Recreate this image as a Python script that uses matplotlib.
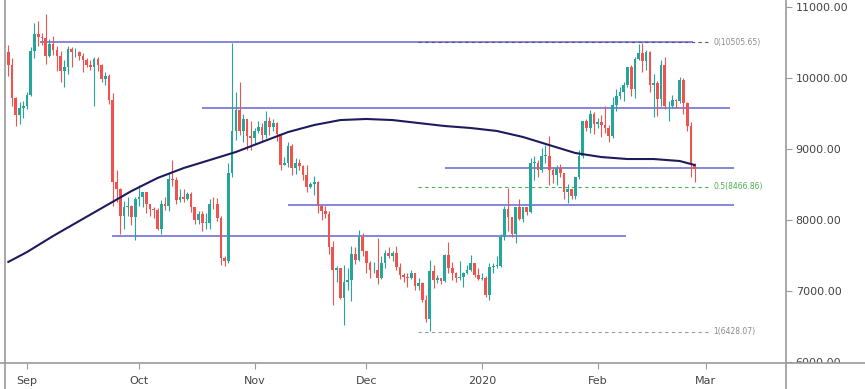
import numpy as np
import pandas as pd
import matplotlib
matplotlib.use('Agg')
import matplotlib.pyplot as plt
import matplotlib.dates as mdates
from matplotlib.lines import Line2D
from matplotlib.patches import Rectangle

# datos diarios (27 ago 2019 - 27 feb 2020)
dates = pd.date_range('2019-08-27', '2020-02-27', freq='D')
first_open = 10360

close = [
  10180, 9720, 9480, 9580, 9600,
  9760, 10380, 10620, 10580, 10570, 10310, 10480, 10390, 10310, 10100, 10160, 10410, 10360, 10360, 10310,
  10260, 10190, 10160, 10270, 10180, 9990, 10030, 9690, 8530, 8430, 8060, 8180, 8200, 8040, 8300,
  8330, 8390, 8230, 8150, 8140, 7880, 8220, 8200, 8580, 8570, 8280, 8330, 8300, 8360, 8180, 8000,
  8080, 7960, 7960, 8230, 8220, 8030, 7470, 7420, 8660, 9250, 9550, 9250, 9420, 9190, 9150,
  9250, 9310, 9200, 9400, 9310, 9360, 9210, 8780, 8810, 9040, 8730, 8810, 8760, 8630, 8470,
  8510, 8540, 8200, 8130, 8090, 7620, 7290, 7320, 6900, 7130, 7160, 7520, 7430, 7760, 7560,
  7400, 7290, 7290, 7190, 7390, 7530, 7500, 7540, 7340, 7220, 7200, 7190, 7250, 7070, 7110, 6880,
  6610, 7280, 7150, 7190, 7140, 7510, 7320, 7250, 7190, 7200, 7250, 7300, 7390, 7220, 7170,
  7180, 6950, 7340, 7350, 7350, 7760, 8150, 8040, 7810, 8190, 8020, 8180, 8110, 8810, 8810, 8710,
  8900, 8900, 8700, 8630, 8730, 8660, 8390, 8430, 8340, 8600, 8900, 9390, 9290, 9500, 9350,
  9380, 9340, 9290, 9180, 9620, 9750, 9800, 9900, 10160, 9850, 10270, 10350, 10240, 10370,
  9900, 9930, 9700, 10180, 9600, 9610, 9690, 9670, 9970, 9650, 9320, 8790, 8720]

high = [
  10460, 10280, 9730, 9660, 9680,
  9800, 10440, 10780, 10800, 10640, 10900, 10550, 10590, 10450, 10380, 10250, 10450, 10440, 10420, 10380,
  10350, 10280, 10250, 10300, 10290, 10200, 10090, 10060, 9790, 8700, 8450, 8270, 8320, 8210, 8330,
  8500, 8400, 8400, 8230, 8190, 8170, 8280, 8330, 8660, 8850, 8600, 8430, 8430, 8400, 8400, 8190,
  8120, 8120, 8100, 8300, 8330, 8310, 8050, 7500, 8800, 10500, 9800, 9950, 9500, 9420, 9390,
  9290, 9390, 9360, 9530, 9450, 9420, 9380, 9230, 8890, 9100, 9070, 8880, 8860, 8780, 8780,
  8540, 8620, 8550, 8210, 8200, 8130, 7700, 7350, 7330, 7360, 7330, 7630, 7620, 7860, 7820,
  7560, 7420, 7410, 7750, 7490, 7580, 7620, 7570, 7630, 7390, 7260, 7250, 7300, 7260, 7180, 7120,
  6940, 7440, 7370, 7220, 7190, 7520, 7690, 7410, 7270, 7420, 7270, 7360, 7510, 7400, 7320,
  7250, 7210, 7400, 7390, 7490, 7800, 8200, 8450, 8040, 8190, 8290, 8190, 8190, 8880, 8900, 8840,
  9010, 9050, 9190, 8740, 8770, 8790, 8660, 8510, 8440, 8600, 8980, 9400, 9420, 9550, 9520,
  9440, 9480, 9600, 9340, 9730, 9840, 9870, 9940, 10160, 10190, 10290, 10480, 10500, 10390,
  10380, 10050, 9960, 10250, 10300, 9670, 9760, 9700, 10020, 10000, 9660, 9380, 8810]

low = [
  10030, 9600, 9320, 9350, 9440,
  9570, 9740, 10280, 10450, 10470, 10200, 10300, 10320, 10100, 9950, 9880, 10050, 10150, 10300, 10250,
  10080, 10150, 10120, 9600, 10100, 9950, 9900, 9630, 8200, 8250, 7800, 7880, 8050, 7930, 7720,
  8200, 8190, 8100, 8050, 8030, 7860, 7800, 8140, 8120, 8480, 8230, 8260, 8250, 8280, 8110, 7950,
  7950, 7850, 7880, 7880, 8150, 7990, 7360, 7350, 7400, 8600, 9130, 9200, 9100, 8980, 8980,
  9070, 9220, 9120, 9150, 9200, 9260, 9120, 8700, 8780, 8750, 8640, 8650, 8700, 8570, 8400,
  8450, 8350, 8100, 8000, 8030, 7520, 6800, 7130, 6890, 6520, 7020, 6860, 7380, 7420, 7490,
  7250, 7180, 7250, 7100, 7170, 7330, 7470, 7420, 7300, 7170, 7130, 7060, 7170, 7020, 7020, 6850,
  6560, 6440, 7040, 7110, 7100, 7130, 7260, 7160, 7130, 7150, 7060, 7240, 7280, 7200, 7150,
  7150, 6920, 6870, 7260, 7320, 7340, 7720, 7850, 7760, 7680, 8000, 7970, 8070, 8100, 8570, 8610,
  8680, 8800, 8500, 8520, 8500, 8600, 8300, 8240, 8290, 8300, 8580, 8880, 9250, 9220, 9210,
  9300, 9170, 9230, 9100, 9160, 9540, 9710, 9680, 9880, 9740, 9720, 10250, 10080, 10120,
  9800, 9450, 9470, 9600, 9570, 9400, 9580, 9580, 9650, 9500, 9260, 8600, 8530]

# media movil (un punto por semana)
ma_dates = ['2019-08-27', '2019-09-01', '2019-09-08', '2019-09-15', '2019-09-22', '2019-09-29',
            '2019-10-06', '2019-10-13', '2019-10-20', '2019-10-27', '2019-11-03', '2019-11-10',
            '2019-11-17', '2019-11-24', '2019-12-01', '2019-12-08', '2019-12-15', '2019-12-22',
            '2019-12-29', '2020-01-05', '2020-01-12', '2020-01-19', '2020-01-26', '2020-02-02',
            '2020-02-09', '2020-02-16', '2020-02-23', '2020-02-27']
ma_values = [7410, 7549, 7775, 7986, 8197, 8408, 8592, 8732, 8845, 8958, 9099, 9239, 9338, 9408,
             9423, 9408, 9366, 9324, 9296, 9254, 9169, 9056, 8944, 8887, 8859, 8859, 8831, 8775]

# soportes / resistencias horizontales
level_prices = [10505.65, 9580, 8730, 8210, 7775]
level_start = ['2019-09-04 12:00', '2019-10-18', '2019-12-22', '2019-11-10', '2019-09-23 20:00']
level_end = ['2020-02-26 12:00', '2020-03-07 12:00', '2020-03-08 12:00', '2020-03-08 12:00', '2020-02-08 14:00']

# retroceso de fibonacci
fib_names = ['0', '0.5', '1']
fib_prices = [10505.65, 8466.86, 6428.07]
fib_start = '2019-12-14 20:00'
fib_end = '2020-03-02'

month_ticks = ['2019-09-01', '2019-10-01', '2019-11-01', '2019-12-01', '2020-01-01', '2020-02-01', '2020-03-01']
month_labels = ['Sep', 'Oct', 'Nov', 'Dec', '2020', 'Feb', 'Mar']
price_ticks = [6000, 7000, 8000, 9000, 10000, 11000]

UP = '#26a69a'
DOWN = '#ef5350'
LEVEL = '#7272d6'

def num(d):
  return mdates.date2num(pd.Timestamp(d))

###################
# FIGURA
###################
fig = plt.figure(figsize=(8.65, 3.89), dpi=100)
W, H = 865.0, 389.0
ax = fig.add_axes([5 / W, 26 / H, 781 / W, 363 / H])

x = mdates.date2num(dates)
c = np.array(close, dtype=float)
o = np.concatenate(([first_open], c[:-1]))
h = np.maximum(np.array(high, dtype=float), np.maximum(o, c))
l = np.minimum(np.array(low, dtype=float), np.minimum(o, c))
cols = np.where(c >= o, UP, DOWN)

# velas
ax.vlines(x, l, h, colors=cols, linewidth=0.8, zorder=2)
body = np.maximum(np.abs(c - o), 12)
ax.bar(x, body, bottom=np.minimum(o, c), width=0.72, color=cols, linewidth=0, zorder=3)

# media movil
ax.plot([num(d) for d in ma_dates], ma_values, color='#1d1b5e', linewidth=1.5, zorder=4)

# lineas horizontales
for p, s, e in zip(level_prices, level_start, level_end):
  ax.hlines(p, num(s), num(e), colors=LEVEL, linewidth=1.2, zorder=1)

# fibonacci
fib_cols = ['#555577', '#4caf50', '#9a9a9a']
fib_txt = ['#8a8a8a', '#4caf50', '#8a8a8a']
for name, p, fc, tc in zip(fib_names, fib_prices, fib_cols, fib_txt):
  ax.hlines(p, num(fib_start), num(fib_end), colors=fc, linewidth=0.8,
            linestyles=(0, (3, 3)), zorder=1.5)
  ax.text(num(fib_end) + 1.0, p, name + '(' + '%.2f' % p + ')', color=tc,
          fontsize=5.5, va='center', ha='left')

sep1 = num('2019-09-01')
ax.set_xlim(sep1 - 5.9, sep1 + 203.5)
ax.set_ylim(5986, 11099)

ax.yaxis.tick_right()
ax.set_yticks(price_ticks)
ax.set_yticklabels(['%.2f' % v for v in price_ticks])
ax.set_xticks([num(d) for d in month_ticks])
ax.set_xticklabels(month_labels)
ax.tick_params(axis='both', length=4, width=0.8, color='#999999', labelcolor='#444444', labelsize=8)
ax.tick_params(axis='y', pad=3)
ax.tick_params(axis='x', pad=5)
for side in ['top', 'left', 'right', 'bottom']:
  ax.spines[side].set_visible(False)

# tapa la parte baja de la etiqueta 6000.00 y dibuja los bordes
fig.add_artist(Rectangle((786 / W, 0), 79 / W, 26 / H, transform=fig.transFigure,
                         facecolor='white', edgecolor='none', zorder=3))
lc = '#9a9a9a'
fig.add_artist(Line2D([0, 1], [26 / H, 26 / H], transform=fig.transFigure, color=lc, linewidth=1.2, zorder=4))
fig.add_artist(Line2D([786 / W, 786 / W], [0, 1], transform=fig.transFigure, color=lc, linewidth=1.2, zorder=4))
fig.add_artist(Line2D([5 / W, 5 / W], [0, 1], transform=fig.transFigure, color=lc, linewidth=1.2, zorder=4))

fig.savefig('out.png', dpi=100)
